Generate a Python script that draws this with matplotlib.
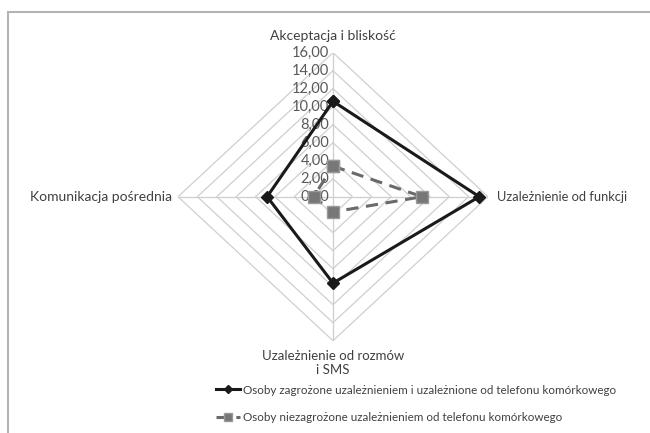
import numpy as np
import matplotlib.pyplot as plt
from matplotlib.patches import Rectangle
from matplotlib.lines import Line2D

plt.rcParams['font.family'] = ['Lato', 'DejaVu Sans']

# dane (kolejność zgodnie z ruchem wskazówek zegara, od góry)
kategorie = ['Akceptacja i bliskość', 'Uzależnienie od funkcji',
             'Uzależnienie od rozmów\ni SMS', 'Komunikacja pośrednia']
zagrozone = [10.6, 15.1, 9.6, 6.8]
niezagrozone = [3.4, 9.2, 1.7, 2.0]
skala = [0, 2, 4, 6, 8, 10, 12, 14, 16]
nazwy = ['Osoby zagrożone uzależnieniem i uzależnione od telefonu komórkowego',
         'Osoby niezagrożone uzależnieniem od telefonu komórkowego']

kat = np.arange(len(kategorie)) * 2 * np.pi / len(kategorie)
sx, sy = np.sin(kat), np.cos(kat)

fig = plt.figure(figsize=(6.5, 4.33), dpi=100)
ax = fig.add_axes([178 / 650, (433 - 340.7) / 433, 310 / 650, 288 / 433])
rmax = skala[-1]
ax.set_xlim(-rmax, rmax)
ax.set_ylim(-rmax, rmax)
ax.axis('off')

# siatka
for r in skala[1:]:
    ax.plot(np.append(sx, sx[0]) * r, np.append(sy, sy[0]) * r,
            color='#cfcfcf', lw=0.9, zorder=1)
for i in range(len(kat)):
    ax.plot([0, sx[i] * rmax], [0, sy[i] * rmax], color='#cfcfcf', lw=0.9, zorder=1)

# opisy osi
for r in skala:
    ax.text(-0.4, r, f'{r:.2f}'.replace('.', ','), ha='right', va='center',
            fontsize=10.5, color='#595959', zorder=2)

ax.text(0, rmax + 1.9, kategorie[0], ha='center', va='center', fontsize=10, color='#404040')
ax.text(rmax + 0.9, 0, kategorie[1], ha='left', va='center', fontsize=9.3, color='#404040')
ax.text(0, -rmax - 1.0, kategorie[2], ha='center', va='top', fontsize=9.5, color='#404040',
        linespacing=1.25)
ax.text(-rmax - 0.6, 0, kategorie[3], ha='right', va='center', fontsize=10, color='#404040')

# serie
v1 = np.array(zagrozone)
v2 = np.array(niezagrozone)
ax.plot(np.append(v1 * sx, v1[0] * sx[0]), np.append(v1 * sy, v1[0] * sy[0]),
        color='#1a1a1a', lw=2.2, marker='D', markersize=6, zorder=4, clip_on=False)
ax.plot(np.append(v2 * sx, v2[0] * sx[0]), np.append(v2 * sy, v2[0] * sy[0]),
        color='#6a6a6a', lw=2.2, ls=(0, (4, 2.5)), marker='s', markersize=8,
        markerfacecolor='#777777', markeredgecolor='#9a9a9a', zorder=3)

uchwyty = [
    Line2D([], [], color='#1a1a1a', lw=2.2, marker='D', markersize=4),
    Line2D([], [], color='#6a6a6a', lw=2.2, ls=(0, (4, 2.5)), marker='s', markersize=6,
           markerfacecolor='#777777', markeredgecolor='#9a9a9a'),
]
fig.legend(uchwyty, nazwy, loc='upper left', bbox_to_anchor=(205 / 650, 1 - 374 / 433),
           frameon=False, fontsize=8.4, labelcolor='#404040', handlelength=2.1,
           handletextpad=0.25, labelspacing=1.45)

# ramka
fig.patches.append(Rectangle((8 / 650, -0.1), 1.0, (433 - 12) / 433 + 0.1,
                             transform=fig.transFigure, fill=False,
                             edgecolor='#b4b4b4', lw=1.5))

fig.savefig('out.png', dpi=100)
